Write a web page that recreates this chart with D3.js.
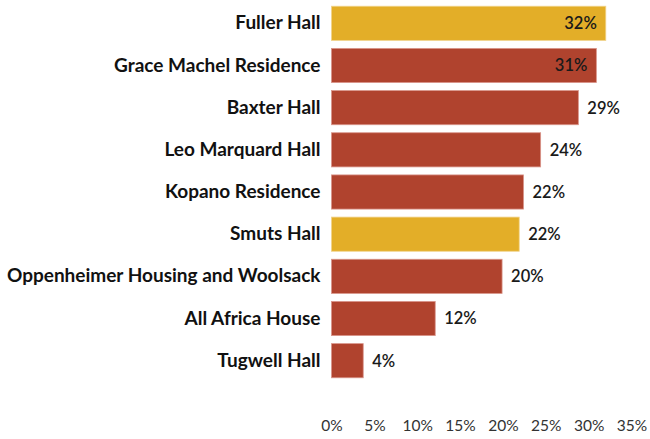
<!DOCTYPE html>
<html>
<head>
<meta charset="utf-8">
<script src="https://cdn.jsdelivr.net/npm/d3@7"></script>
<style>
  body { margin: 0; background: #fff; }
  text { font-family: Lato, "Open Sans", sans-serif; }
</style>
</head>
<body>
<div id="chart-area"></div>
<script>
// Data //
const halls = ["Fuller Hall", "Grace Machel Residence", "Baxter Hall", "Leo Marquard Hall",
  "Kopano Residence", "Smuts Hall", "Oppenheimer Housing and Woolsack", "All Africa House", "Tugwell Hall"];
const shares = [32, 30.9, 28.8, 24.4, 22.4, 21.9, 19.9, 12.1, 3.7];
const highlighted = ["Fuller Hall", "Smuts Hall"];
const tickValues = [0, 5, 10, 15, 20, 25, 30, 35];

const data = halls.map((h, i) => ({ hall: h, share: shares[i] }));

// Configure canvas //
const W = 650, H = 439;
const svg = d3.select("#chart-area").append("svg")
  .attr("width", W).attr("height", H);

// X scale
const xScale = d3.scaleLinear()
  .domain([0, 35])
  .range([331.5, 631.5]);

// Y scale
const yScale = d3.scaleBand()
  .domain(halls)
  .range([2, 382])
  .paddingInner(0.19)
  .paddingOuter(0.1);

// Bars
svg.selectAll("rect.bar").data(data).enter()
  .append("rect")
  .attr("class", "bar")
  .attr("x", xScale(0))
  .attr("y", d => yScale(d.hall))
  .attr("width", d => xScale(d.share) - xScale(0))
  .attr("height", yScale.bandwidth())
  .attr("fill", d => highlighted.includes(d.hall) ? "#e3ae28" : "#b0432e")
  .attr("stroke", d => highlighted.includes(d.hall) ? "#f0d38a" : "#d9958a")
  .attr("stroke-width", 0.8);

// Value labels: inside the two longest bars, outside the rest
svg.selectAll("text.value").data(data).enter()
  .append("text")
  .attr("class", "value")
  .attr("x", d => d.share > 30 ? xScale(d.share) - 9 : xScale(d.share) + 9)
  .attr("y", d => yScale(d.hall) + yScale.bandwidth() / 2)
  .attr("dy", "0.36em")
  .attr("text-anchor", d => d.share > 30 ? "end" : "start")
  .attr("font-size", "16.5px")
  .attr("font-weight", 600)
  .attr("fill", "#1a1a1a")
  .text(d => Math.round(d.share) + "%");

// Y Axis (category labels)
const yAxisCall = d3.axisLeft(yScale).tickSize(0).tickPadding(11);
const yAxis = svg.append("g")
  .attr("transform", "translate(" + xScale(0) + ",0)")
  .call(yAxisCall);
yAxis.select(".domain").remove();
yAxis.selectAll("text")
  .attr("font-family", "Lato, sans-serif")
  .attr("font-size", "19px")
  .attr("font-weight", "bold")
  .attr("fill", "#111");

// X Axis (tick labels only)
const xAxisCall = d3.axisBottom(xScale)
  .tickValues(tickValues)
  .tickSize(0)
  .tickFormat(d => d + "%");
const xAxis = svg.append("g")
  .attr("transform", "translate(0,417)")
  .call(xAxisCall);
xAxis.select(".domain").remove();
xAxis.selectAll("text")
  .attr("font-family", "Lato, sans-serif")
  .attr("font-size", "15.5px")
  .attr("fill", "#333");
</script>
</body>
</html>
